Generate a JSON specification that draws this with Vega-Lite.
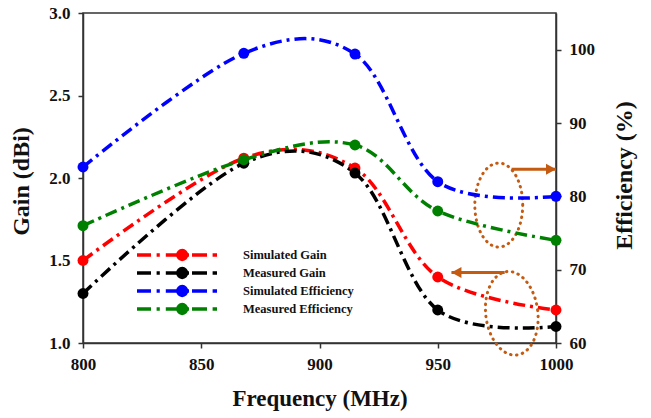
{
  "$schema": "https://vega.github.io/schema/vega-lite/v6.json",
  "width": 473,
  "height": 330,
  "autosize": {"type": "none"},
  "padding": {"left": 83, "top": 13, "right": 95, "bottom": 75},
  "background": "white",
  "config": {
    "view": {"stroke": "#333333", "strokeWidth": 1.5},
    "font": "Liberation Serif",
    "axis": {
      "grid": false,
      "domainColor": "#333333",
      "domainWidth": 1.5,
      "tickColor": "#333333",
      "tickWidth": 1.5,
      "tickSize": 5,
      "labelFlush": false,
      "labelFont": "Liberation Serif",
      "labelFontWeight": "bold",
      "labelFontSize": 17,
      "labelColor": "#111111",
      "titleFont": "Liberation Serif",
      "titleFontWeight": "bold",
      "titleColor": "#111111"
    }
  },
  "datasets": {
    "gain": [
      {"freq": 800, "gain": 1.50, "series": "Simulated Gain"},
      {"freq": 868, "gain": 2.12, "series": "Simulated Gain"},
      {"freq": 915, "gain": 2.06, "series": "Simulated Gain"},
      {"freq": 950, "gain": 1.40, "series": "Simulated Gain"},
      {"freq": 1000, "gain": 1.20, "series": "Simulated Gain"},
      {"freq": 800, "gain": 1.30, "series": "Measured Gain"},
      {"freq": 868, "gain": 2.09, "series": "Measured Gain"},
      {"freq": 915, "gain": 2.03, "series": "Measured Gain"},
      {"freq": 950, "gain": 1.20, "series": "Measured Gain"},
      {"freq": 1000, "gain": 1.10, "series": "Measured Gain"}
    ],
    "efficiency": [
      {"freq": 800, "eff": 84.0, "series": "Simulated Efficiency"},
      {"freq": 868, "eff": 99.5, "series": "Simulated Efficiency"},
      {"freq": 915, "eff": 99.4, "series": "Simulated Efficiency"},
      {"freq": 950, "eff": 82.0, "series": "Simulated Efficiency"},
      {"freq": 1000, "eff": 80.0, "series": "Simulated Efficiency"},
      {"freq": 800, "eff": 76.0, "series": "Measured Efficiency"},
      {"freq": 868, "eff": 85.0, "series": "Measured Efficiency"},
      {"freq": 915, "eff": 87.0, "series": "Measured Efficiency"},
      {"freq": 950, "eff": 78.0, "series": "Measured Efficiency"},
      {"freq": 1000, "eff": 74.0, "series": "Measured Efficiency"}
    ],
    "ovals": [
      {"freq": 975.8, "gain": 1.836, "group": "efficiency"},
      {"freq": 981.3, "gain": 1.18, "group": "gain"}
    ],
    "arrows": [
      {"freq": 981.2, "tip": 1000, "gain": 2.053, "dir": "right"},
      {"freq": 978.3, "tip": 955.8, "gain": 1.428, "dir": "left"}
    ]
  },
  "encoding": {
    "x": {
      "field": "freq",
      "type": "quantitative",
      "scale": {"domain": [800, 1000], "nice": false, "zero": false},
      "axis": {
        "values": [800, 850, 900, 950, 1000],
        "format": "d",
        "labelPadding": 8,
        "title": "Frequency (MHz)",
        "titleFontSize": 23,
        "titleBaseline": "alphabetic",
        "titleY": 62
      }
    }
  },
  "layer": [
    {
      "layer": [
        {
          "data": {"name": "gain"},
          "mark": {
            "type": "line",
            "interpolate": "cardinal",
            "strokeWidth": 3.5,
            "strokeDash": [12, 5, 3, 5]
          },
          "encoding": {
            "y": {
              "field": "gain",
              "type": "quantitative",
              "scale": {"domain": [1, 3], "nice": false, "zero": false},
              "axis": {
                "orient": "left",
                "values": [1, 1.5, 2, 2.5, 3],
                "format": ".1f",
                "labelPadding": 8,
                "title": "Gain (dBi)",
                "titleFontSize": 24,
                "titleAngle": -90,
                "titleAlign": "center",
                "titleBaseline": "middle",
                "titleX": -62,
                "titleY": 168
              }
            },
            "color": {
              "field": "series",
              "type": "nominal",
              "scale": {
                "domain": ["Simulated Gain", "Measured Gain", "Simulated Efficiency", "Measured Efficiency"],
                "range": ["#ff0000", "#000000", "#0000ff", "#008000"]
              },
              "legend": {
                "title": null,
                "orient": "none",
                "legendX": 52,
                "legendY": 233,
                "padding": 0,
                "rowPadding": 0,
                "clipHeight": 18,
                "symbolType": "M-1,0H-0.65M-0.51,0H-0.43M-0.28,0H0.02M0.24,0H0.3M0.375,0H0.75M0.89,0H1M0.24,0A0.11,0.11 0 1,1 0.02,0A0.11,0.11 0 1,1 0.24,0Z",
                "symbolSize": 6400,
                "symbolStrokeWidth": 3.5,
                "labelOffset": 24,
                "labelFont": "Liberation Serif",
                "labelFontWeight": "bold",
                "labelFontSize": 12.5,
                "labelColor": "#111111",
                "encode": {
                  "symbols": {
                    "update": {
                      "fill": {"scale": "color", "field": "value"},
                      "stroke": {"scale": "color", "field": "value"},
                      "fillOpacity": {"value": 1}
                    }
                  }
                }
              }
            }
          }
        },
        {
          "data": {"name": "gain"},
          "mark": {"type": "point", "filled": true, "size": 120, "opacity": 1, "shape": "circle"},
          "encoding": {
            "y": {"field": "gain", "type": "quantitative"},
            "color": {"field": "series", "type": "nominal"}
          }
        },
        {
          "data": {"name": "ovals"},
          "transform": [{"filter": "datum.group === 'efficiency'"}],
          "mark": {
            "type": "point",
            "shape": "M0.57,0A0.57,1 0 1,1 -0.57,0A0.57,1 0 1,1 0.57,0Z",
            "size": 7056,
            "filled": false,
            "stroke": "#c55a11",
            "strokeWidth": 3,
            "strokeDash": [0.5, 5.5],
            "strokeCap": "round",
            "opacity": 1
          },
          "encoding": {"y": {"field": "gain", "type": "quantitative"}}
        },
        {
          "data": {"name": "ovals"},
          "transform": [{"filter": "datum.group === 'gain'"}],
          "mark": {
            "type": "point",
            "shape": "M0.62,0A0.62,1 0 1,1 -0.62,0A0.62,1 0 1,1 0.62,0Z",
            "size": 7056,
            "angle": -7,
            "filled": false,
            "stroke": "#c55a11",
            "strokeWidth": 3,
            "strokeDash": [0.5, 5.5],
            "strokeCap": "round",
            "opacity": 1
          },
          "encoding": {"y": {"field": "gain", "type": "quantitative"}}
        },
        {
          "data": {"name": "arrows"},
          "mark": {"type": "rule", "color": "#c55a11", "strokeWidth": 3},
          "encoding": {
            "x2": {"field": "tip"},
            "y": {"field": "gain", "type": "quantitative"}
          }
        },
        {
          "data": {"name": "arrows"},
          "transform": [{"filter": "datum.dir === 'right'"}],
          "mark": {
            "type": "point",
            "shape": "M0,0L-1,-0.55L-1,0.55Z",
            "size": 400,
            "filled": true,
            "color": "#c55a11",
            "opacity": 1
          },
          "encoding": {
            "x": {"field": "tip", "type": "quantitative"},
            "y": {"field": "gain", "type": "quantitative"}
          }
        },
        {
          "data": {"name": "arrows"},
          "transform": [{"filter": "datum.dir === 'left'"}],
          "mark": {
            "type": "point",
            "shape": "M0,0L1,-0.55L1,0.55Z",
            "size": 400,
            "filled": true,
            "color": "#c55a11",
            "opacity": 1
          },
          "encoding": {
            "x": {"field": "tip", "type": "quantitative"},
            "y": {"field": "gain", "type": "quantitative"}
          }
        }
      ]
    },
    {
      "data": {"name": "efficiency"},
      "layer": [
        {
          "mark": {
            "type": "line",
            "interpolate": "cardinal",
            "strokeWidth": 3.5,
            "strokeDash": [12, 5, 3, 5]
          },
          "encoding": {
            "y": {
              "field": "eff",
              "type": "quantitative",
              "scale": {"domain": [60, 105], "nice": false, "zero": false},
              "axis": {
                "orient": "right",
                "values": [60, 70, 80, 90, 100],
                "labelPadding": 8,
                "title": "Efficiency (%)",
                "titleFontSize": 24,
                "titleAngle": -90,
                "titleAlign": "center",
                "titleBaseline": "middle",
                "titleX": 68,
                "titleY": 162
              }
            },
            "color": {"field": "series", "type": "nominal"}
          }
        },
        {
          "mark": {"type": "point", "filled": true, "size": 120, "opacity": 1, "shape": "circle"},
          "encoding": {
            "y": {"field": "eff", "type": "quantitative"},
            "color": {"field": "series", "type": "nominal"}
          }
        }
      ]
    }
  ],
  "resolve": {"scale": {"y": "independent"}}
}
